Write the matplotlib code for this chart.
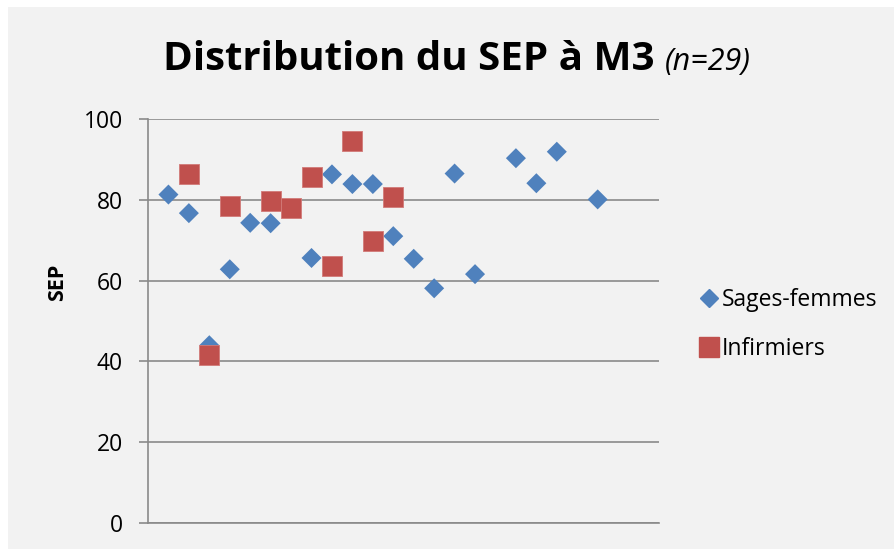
import matplotlib
matplotlib.use("Agg")
import matplotlib.pyplot as plt
from matplotlib.patches import Rectangle
from matplotlib.lines import Line2D

plt.rcParams['font.family'] = ['Open Sans', 'DejaVu Sans']

# Data
sf_x = [1, 2, 3, 4, 5, 6, 8, 9, 10, 11, 12, 13, 14, 15, 16, 18, 19, 20, 22]
sf_y = [81.3, 76.7, 44.0, 62.8, 74.3, 74.2, 65.6, 86.3, 83.9, 83.9, 71.0, 65.4,
        58.1, 86.5, 61.6, 90.3, 84.1, 91.9, 80.1]
inf_x = [2, 3, 4, 6, 7, 8, 9, 10, 11, 12]
inf_y = [86.3, 41.6, 78.5, 79.7, 78.0, 85.7, 63.6, 94.6, 69.8, 80.8]
y_ticks = [0, 20, 40, 60, 80, 100]
series_names = ["Sages-femmes", "Infirmiers"]

W, H = 894, 549
fig = plt.figure(figsize=(W / 100, H / 100), dpi=100, facecolor='white')
fig.patches.append(Rectangle((8 / W, 0), 1 - 8 / W, 1 - 7 / H, transform=fig.transFigure,
                             facecolor='#f2f2f2', edgecolor='none', zorder=-10))

ax = fig.add_axes([148 / W, (H - 523) / H, (659 - 148) / W, (523 - 119) / H])
ax.set_zorder(1)
ax.set_facecolor('none')
ax.set_xlim(0, 25)
ax.set_ylim(0, 100)
ax.set_yticks(y_ticks)
ax.set_xticks([])
grid_c = '#8a8a8a'
ax.yaxis.grid(True, color=grid_c, linewidth=1.2)
ax.set_axisbelow(True)
for s in ['top', 'right']:
    ax.spines[s].set_visible(False)
for s in ['left', 'bottom']:
    ax.spines[s].set_color(grid_c)
    ax.spines[s].set_linewidth(1.2)
ax.tick_params(axis='y', length=6.5, width=1.2, color=grid_c, labelsize=16.5, pad=11.5,
               labelcolor='black')

blue = '#4f81bd'
red = '#c0504d'
ax.scatter(sf_x, sf_y, marker='D', s=104, color=blue, edgecolors='none', zorder=3, clip_on=False)
ax.scatter(inf_x, inf_y, marker='s', s=215, color=red, edgecolors='#d27a78', linewidths=0.6,
           zorder=4, clip_on=False)

fig.text(58 / W, 1 - 282 / H, "SEP", rotation=90, ha='center', va='center',
         fontsize=15.5, fontweight='bold')

t1 = fig.text(163 / W, 1 - 70 / H, "Distribution du SEP à M3", ha='left', va='baseline',
              fontsize=29, fontweight='bold')
fig.canvas.draw()
bb = t1.get_window_extent()
fig.text((bb.x1 + 10) / W, 1 - 70 / H, "(n=29)", ha='left', va='baseline',
         fontsize=22, fontstyle='italic')

handles = [Line2D([], [], marker='D', linestyle='none', color=blue, markersize=9.5),
           Line2D([], [], marker='s', linestyle='none', color=red, markersize=14)]
fig.legend(handles, series_names, loc='center left',
           bbox_to_anchor=(690 / W, 1 - 324.5 / H), frameon=False, fontsize=16.5,
           handlelength=0.9, handletextpad=0.1, labelspacing=1.12, borderaxespad=0)

fig.savefig("out.png", dpi=100, facecolor=fig.get_facecolor())
